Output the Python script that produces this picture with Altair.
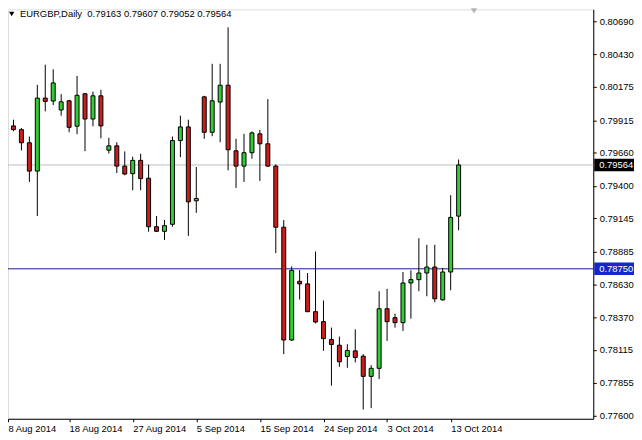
import altair as alt
import pandas as pd

# ---- data (EURGBP daily candles, MT4 incl. Sunday bars) ----
BAR_INDEX = list(range(58))
OPEN = [0.79457, 0.79870, 0.79841, 0.79738, 0.79516, 0.80088, 0.80065, 0.79995, 0.80067, 0.79868,
        0.80122, 0.79924, 0.80106, 0.79680, 0.79714, 0.79555, 0.79496, 0.79600, 0.79460, 0.79080,
        0.79044, 0.79099, 0.79755, 0.79862, 0.79283, 0.80098, 0.79820, 0.80057, 0.80189, 0.79675,
        0.79555, 0.79660, 0.79808, 0.79730, 0.79555, 0.79076, 0.78192, 0.78652, 0.78632, 0.78414,
        0.78336, 0.78196, 0.78151, 0.78063, 0.78107, 0.78065, 0.77907, 0.77970, 0.78437, 0.78367,
        0.78328, 0.78639, 0.78665, 0.78717, 0.78764, 0.78507, 0.78725, 0.79163]
HIGH = [0.79963, 0.79919, 0.79854, 0.79787, 0.80192, 0.80350, 0.80314, 0.80119, 0.80075, 0.80262,
        0.80129, 0.80139, 0.80153, 0.79777, 0.79742, 0.79670, 0.79629, 0.79652, 0.79566, 0.79164,
        0.79132, 0.79787, 0.79950, 0.79919, 0.79548, 0.80106, 0.80357, 0.80357, 0.80643, 0.79769,
        0.79808, 0.79826, 0.79839, 0.80080, 0.79569, 0.79132, 0.78769, 0.78740, 0.78717, 0.78886,
        0.78502, 0.78289, 0.78219, 0.78159, 0.78276, 0.78081, 0.77995, 0.78574, 0.78593, 0.78398,
        0.78725, 0.78738, 0.78990, 0.78938, 0.78938, 0.78756, 0.79327, 0.79607]
LOW = [0.79444, 0.79828, 0.79678, 0.79431, 0.79164, 0.79984, 0.80034, 0.79950, 0.79820, 0.79805,
       0.79672, 0.79867, 0.79773, 0.79654, 0.79501, 0.79483, 0.79366, 0.79366, 0.79041, 0.79039,
       0.78977, 0.79080, 0.79625, 0.79008, 0.79189, 0.79769, 0.79789, 0.79742, 0.79522, 0.79384,
       0.79431, 0.79613, 0.79439, 0.79550, 0.78873, 0.78081, 0.78185, 0.78509, 0.78410, 0.78322,
       0.78107, 0.77834, 0.77982, 0.77974, 0.78016, 0.77647, 0.77658, 0.77886, 0.78185, 0.78289,
       0.78263, 0.78359, 0.78574, 0.78535, 0.78488, 0.78500, 0.78582, 0.79052]
CLOSE = [0.79911, 0.79841, 0.79738, 0.79516, 0.80088, 0.80062, 0.80207, 0.80059, 0.79859, 0.80110,
         0.79924, 0.80106, 0.79870, 0.79714, 0.79555, 0.79493, 0.79600, 0.79457, 0.79080, 0.79044,
         0.79088, 0.79755, 0.79862, 0.79275, 0.79301, 0.79820, 0.80067, 0.80189, 0.79683, 0.79555,
         0.79660, 0.79815, 0.79730, 0.79555, 0.79076, 0.78192, 0.78738, 0.78632, 0.78414, 0.78333,
         0.78203, 0.78157, 0.78021, 0.78110, 0.78055, 0.77907, 0.77970, 0.78437, 0.78336, 0.78328,
         0.78639, 0.78665, 0.78717, 0.78764, 0.78515, 0.78725, 0.79153, 0.79564]

DATE_TICK_INDEX = [0, 8, 16, 24, 32, 40, 48, 56]
DATE_TICK_LABELS = ["8 Aug 2014", "18 Aug 2014", "27 Aug 2014", "5 Sep 2014",
                    "15 Sep 2014", "24 Sep 2014", "3 Oct 2014", "13 Oct 2014"]
PRICE_TICKS = [0.80690, 0.80430, 0.80175, 0.79915, 0.79660, 0.79400, 0.79145,
               0.78885, 0.78630, 0.78370, 0.78115, 0.77855, 0.77600]

LEVEL_PRICES = [0.79564, 0.78750]
LEVEL_LABELS = ["0.79564", "0.78750"]
LEVEL_NAMES = ["bid", "level"]

HEADER = "EURGBP,Daily\u00a0\u00a00.79163\u00a00.79607\u00a00.79052\u00a00.79564"

# ---- styling ----
GREEN = "#32cd32"
RED = "#c81e1e"
LINE_GREY = "#c0c0c0"
LINE_BLUE = "#1a1a8c"
BOX_BLUE = "#1428c8"
FONT = "Liberation Sans"
FS = 9.5

W, H = 589, 412
X_DOMAIN = [0.3125, 73.9375]
Y_DOMAIN = [0.775747, 0.807835]

df = pd.DataFrame({"i": BAR_INDEX, "open": OPEN, "high": HIGH, "low": LOW, "close": CLOSE})
df["dir"] = ["up" if c >= o else "down" for o, c in zip(OPEN, CLOSE)]

tick_vals = [max(v, X_DOMAIN[0]) for v in DATE_TICK_INDEX]
label_arr = "[" + ",".join("'" + s + "'" for s in DATE_TICK_LABELS) + "]"

xscale = alt.Scale(domain=X_DOMAIN, nice=False, zero=False, padding=0)
yscale = alt.Scale(domain=Y_DOMAIN, nice=False, zero=False, padding=0)

x_axis = alt.Axis(values=tick_vals, labelExpr=label_arr + "[round(datum.value/8)]",
                  title=None, grid=False, labelAlign="left", labelBaseline="top",
                  labelPadding=2, tickSize=3, tickColor="black", domainColor="black",
                  labelColor="black", labelFont=FONT, labelFontSize=FS,
                  labelOverlap=False, labelFlush=False, labelBound=False)
y_axis = alt.Axis(orient="right", values=PRICE_TICKS, format=".5f", title=None, grid=False,
                  tickSize=3, labelPadding=3, tickColor="black", domainColor="black",
                  labelColor="black", labelFont=FONT, labelFontSize=FS,
                  labelOverlap=False, labelFlush=False)

X = alt.X("i:Q", scale=xscale, axis=x_axis)

wicks = alt.Chart(df).mark_rule(color="black", strokeWidth=1).encode(
    x=X,
    y=alt.Y("low:Q", scale=yscale, axis=y_axis),
    y2="high:Q",
)

bodies = alt.Chart(df).mark_bar(size=4, stroke="black", strokeWidth=1).encode(
    x=X,
    y=alt.Y("open:Q", scale=yscale, axis=y_axis),
    y2="close:Q",
    color=alt.Color("dir:N", scale=alt.Scale(domain=["up", "down"], range=[GREEN, RED]), legend=None),
)

candles = alt.layer(wicks, bodies)

lv = pd.DataFrame({"price": LEVEL_PRICES, "label": LEVEL_LABELS, "name": LEVEL_NAMES})

level_lines = alt.Chart(lv).mark_rule(strokeWidth=1).encode(
    y=alt.Y("price:Q", scale=yscale, axis=y_axis),
    color=alt.Color("name:N", scale=alt.Scale(domain=LEVEL_NAMES, range=[LINE_GREY, LINE_BLUE]), legend=None),
)

BOX_PATH = "M-1,-0.3L1,-0.3L1,0.3L-1,0.3Z"
level_boxes = alt.Chart(lv).mark_point(shape=BOX_PATH, filled=True, size=1764, opacity=1, strokeWidth=0).encode(
    x=alt.value(W + 22),
    y=alt.Y("price:Q", scale=yscale, axis=y_axis),
    fill=alt.Fill("name:N", scale=alt.Scale(domain=LEVEL_NAMES, range=["black", BOX_BLUE]), legend=None),
)

level_text = alt.Chart(lv).mark_text(align="left", baseline="middle", color="white",
                                     font=FONT, fontSize=FS).encode(
    x=alt.value(W + 6),
    y=alt.Y("price:Q", scale=yscale, axis=y_axis),
    text="label:N",
)

header = alt.Chart(pd.DataFrame({"t": [HEADER]})).mark_text(
    align="left", baseline="alphabetic", color="black", font=FONT, fontSize=FS
).encode(x=alt.value(12), y=alt.value(8), text="t:N")

header_tri = alt.Chart(pd.DataFrame({"t": [0]})).mark_point(
    shape="triangle-down", filled=True, size=28, color="black", opacity=1
).encode(x=alt.value(3.7), y=alt.value(4.6))

shift_tri = alt.Chart(pd.DataFrame({"t": [0]})).mark_point(
    shape="triangle-down", filled=True, size=40, color="#b4b4b4", opacity=1
).encode(x=alt.value(469), y=alt.value(1.5))

chart = alt.layer(
    level_lines, candles, level_boxes, level_text, header, header_tri, shift_tri
).resolve_scale(
    color="independent", fill="independent"
).properties(
    width=W, height=H,
    autosize=alt.AutoSizeParams(type="none"),
    padding={"left": 0, "top": 0, "right": 41, "bottom": 20},
).configure_view(
    stroke="black", strokeWidth=1
).configure(background="white")

chart.save("out.html", embed_options={"renderer": "svg", "actions": False})
